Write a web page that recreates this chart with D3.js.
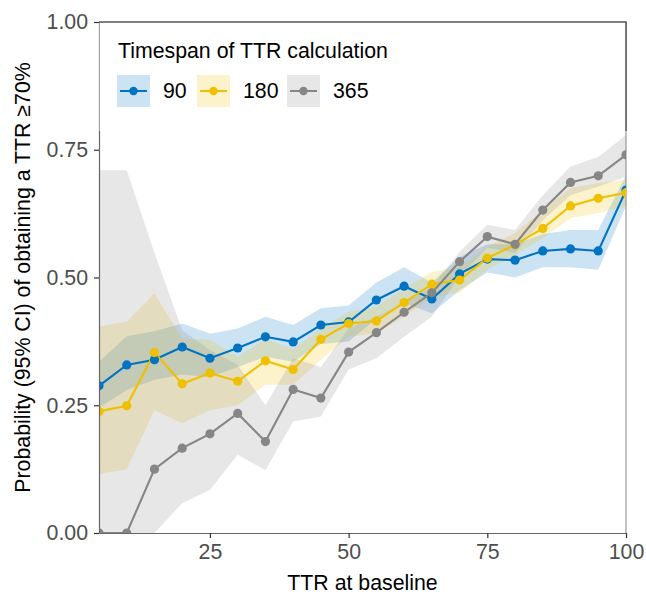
<!DOCTYPE html>
<head>
  <meta charset="utf-8">
  <script src="https://cdn.jsdelivr.net/npm/d3@7"></script>
  <style>
    body {
      margin: 0;
      background: #fff;
      font-family: "Liberation Sans", Arial, Helvetica, sans-serif;
    }
  </style>
</head>
<body>
<div id=chart></div>

<script>
// TTR at baseline (x)
const ttr = [5, 10, 15, 20, 25, 30, 35, 40, 45, 50, 55, 60, 65, 70, 75, 80, 85, 90, 95, 100]

// 90 day timespan
const p90  = [0.288, 0.329, 0.339, 0.364, 0.342, 0.362, 0.384, 0.374, 0.407, 0.413, 0.456, 0.483, 0.458, 0.507, 0.536, 0.534, 0.552, 0.556, 0.552, 0.671]
const lo90 = [0.245, 0.280, 0.300, 0.310, 0.305, 0.325, 0.345, 0.335, 0.370, 0.375, 0.420, 0.450, 0.430, 0.475, 0.510, 0.500, 0.520, 0.520, 0.515, 0.640]
const hi90 = [0.335, 0.385, 0.395, 0.410, 0.390, 0.400, 0.423, 0.407, 0.440, 0.445, 0.490, 0.520, 0.490, 0.540, 0.565, 0.565, 0.585, 0.593, 0.593, 0.700]

// 180 day timespan
const p180  = [0.238, 0.249, 0.353, 0.292, 0.313, 0.297, 0.337, 0.320, 0.379, 0.410, 0.415, 0.451, 0.487, 0.495, 0.538, 0.564, 0.596, 0.640, 0.655, 0.666]
const lo180 = [0.115, 0.125, 0.240, 0.215, 0.240, 0.250, 0.290, 0.290, 0.339, 0.384, 0.391, 0.423, 0.462, 0.470, 0.515, 0.544, 0.577, 0.616, 0.626, 0.639]
const hi180 = [0.404, 0.414, 0.469, 0.380, 0.378, 0.345, 0.380, 0.360, 0.400, 0.433, 0.443, 0.479, 0.511, 0.520, 0.560, 0.587, 0.632, 0.675, 0.685, 0.691]

// 365 day timespan
const p365  = [0.000, 0.000, 0.125, 0.166, 0.194, 0.234, 0.179, 0.281, 0.264, 0.354, 0.392, 0.432, 0.470, 0.531, 0.580, 0.565, 0.632, 0.686, 0.699, 0.740]
const lo365 = [0.000, 0.000, 0.000, 0.058, 0.084, 0.153, 0.123, 0.218, 0.228, 0.320, 0.342, 0.384, 0.423, 0.502, 0.558, 0.548, 0.612, 0.661, 0.678, 0.697]
const hi365 = [0.710, 0.710, 0.548, 0.397, 0.358, 0.329, 0.250, 0.342, 0.325, 0.400, 0.423, 0.450, 0.482, 0.550, 0.603, 0.593, 0.661, 0.717, 0.736, 0.779]

const spans = ['90', '180', '365']
const colors = ['#0073C2', '#EFC000', '#868686']
const x_ticks = [25, 50, 75, 100]
const y_ticks = [0, 0.25, 0.5, 0.75, 1]

const series = [
  { name: spans[0], p: p90, lo: lo90, hi: hi90 },
  { name: spans[1], p: p180, lo: lo180, hi: hi180 },
  { name: spans[2], p: p365, lo: lo365, hi: hi365 },
].map((s, i) => ({
  ...s,
  color: colors[i],
  rows: ttr.map((x, j) => ({ x, p: s.p[j], lo: s.lo[j], hi: s.hi[j] })),
}))

const W = 646, H = 595
const margin = { top: 22, right: 20, bottom: 62, left: 99 }
const inner_w = W - margin.left - margin.right
const inner_h = H - margin.top - margin.bottom
const font_size = '21.3px'

const x = d3.scaleLinear().domain([5, 100]).range([0, inner_w])
const y = d3.scaleLinear().domain([0, 1]).range([inner_h, 0])

const svg = d3.select('#chart').append('svg')
  .attr('width', W).attr('height', H)
  .attr('viewBox', [0, 0, W, H])

svg.append('defs').append('clipPath').attr('id', 'panel')
  .append('rect').attr('width', inner_w).attr('height', inner_h)

const g = svg.append('g').attr('transform', `translate(${margin.left},${margin.top})`)

// right panel border
g.append('line')
  .attr('x1', inner_w).attr('x2', inner_w)
  .attr('y1', 0).attr('y2', inner_h)
  .attr('stroke', '#9a9a9a').attr('stroke-width', 1.2)

const plot = g.append('g').attr('clip-path', 'url(#panel)')

// ribbons
const f_area = d3.area().x(d => x(d.x)).y0(d => y(d.lo)).y1(d => y(d.hi))
plot.selectAll('.band').data(series).join('path')
  .attr('class', 'band')
  .attr('d', d => f_area(d.rows))
  .attr('fill', d => d.color).attr('fill-opacity', 0.2)

// lines
const f_line = d3.line().x(d => x(d.x)).y(d => y(d.p))
plot.selectAll('.line').data(series).join('path')
  .attr('class', 'line')
  .attr('d', d => f_line(d.rows))
  .attr('fill', 'none').attr('stroke', d => d.color).attr('stroke-width', 2.1)

// points
plot.selectAll('.pts').data(series).join('g')
  .attr('class', 'pts')
  .attr('fill', d => d.color)
  .selectAll('circle').data(d => d.rows).join('circle')
    .attr('cx', d => x(d.x)).attr('cy', d => y(d.p)).attr('r', 4.6)

// axes
const axis_style = (sel) => {
  sel.select('.domain').attr('stroke', '#666').attr('stroke-width', 1.2)
  sel.selectAll('.tick line').attr('stroke', '#333').attr('stroke-width', 1.2)
  sel.selectAll('.tick text').attr('fill', '#4d4d4d')
    .style('font-size', font_size).style('font-family', '"Liberation Sans", Arial, sans-serif')
}

g.append('g')
  .attr('transform', `translate(0,${inner_h})`)
  .call(d3.axisBottom(x).tickValues(x_ticks).tickSize(5).tickSizeOuter(0).tickPadding(6))
  .call(axis_style)

g.append('g')
  .call(d3.axisLeft(y).tickValues(y_ticks).tickFormat(d3.format('.2f')).tickSize(5).tickSizeOuter(0).tickPadding(6))
  .call(axis_style)

// axis titles
svg.append('text')
  .attr('x', margin.left + inner_w / 2).attr('y', 590)
  .attr('text-anchor', 'middle')
  .style('font-size', font_size).attr('fill', '#000')
  .text('TTR at baseline')

svg.append('text')
  .attr('transform', `translate(30,${margin.top + inner_h / 2}) rotate(-90)`)
  .attr('text-anchor', 'middle')
  .style('font-size', font_size).attr('fill', '#000')
  .text('Probability (95% CI) of obtaining a TTR ≥70%')

// legend box
const legend = g.append('g')
legend.append('rect')
  .attr('x', 0.6).attr('y', 0).attr('width', inner_w - 0.6).attr('height', 109)
  .attr('fill', '#fff')
legend.append('path')
  .attr('d', `M0,0H${inner_w}V109`)
  .attr('fill', 'none').attr('stroke', '#555').attr('stroke-width', 1.5)

legend.append('text')
  .attr('x', 19).attr('y', 36)
  .style('font-size', font_size).attr('fill', '#000')
  .text('Timespan of TTR calculation')

const key_x = [18, 98, 188]
const key = legend.selectAll('.key').data(series).join('g')
  .attr('class', 'key')
  .attr('transform', (d, i) => `translate(${key_x[i]},53)`)
key.append('rect')
  .attr('width', 33).attr('height', 32)
  .attr('fill', d => d.color).attr('fill-opacity', 0.2)
key.append('line')
  .attr('x1', 3).attr('x2', 30).attr('y1', 16).attr('y2', 16)
  .attr('stroke', d => d.color).attr('stroke-width', 2)
key.append('circle')
  .attr('cx', 16.5).attr('cy', 16).attr('r', 4.2)
  .attr('fill', d => d.color)
key.append('text')
  .attr('x', 46).attr('y', 23)
  .style('font-size', font_size).attr('fill', '#000')
  .text(d => d.name)
</script>
</body>
